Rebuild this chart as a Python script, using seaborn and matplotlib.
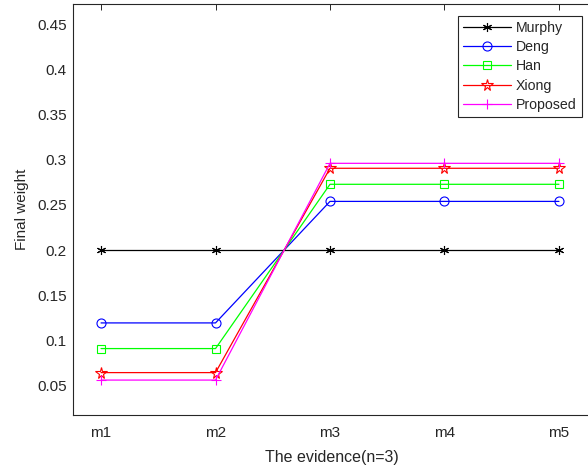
import matplotlib
matplotlib.use("Agg")
import matplotlib.pyplot as plt
import seaborn as sns
import pandas as pd
from matplotlib.ticker import FixedLocator, FuncFormatter

# Evidence labels and the final weight each method assigns to them
evidence = ["m1", "m2", "m3", "m4", "m5"]
murphy = [0.2, 0.2, 0.2, 0.2, 0.2]
deng = [0.1190, 0.1190, 0.2540, 0.2540, 0.2540]
han = [0.0905, 0.0905, 0.2730, 0.2730, 0.2730]
xiong = [0.0638, 0.0638, 0.2908, 0.2908, 0.2908]
proposed = [0.0555, 0.0555, 0.2963, 0.2963, 0.2963]

methods = ["Murphy", "Deng", "Han", "Xiong", "Proposed"]
series = [murphy, deng, han, xiong, proposed]
colors = ["#000000", "#0000ff", "#00ff00", "#ff0000", "#ff00ff"]
markers = [(6, 2, 0), "o", "s", "*", "+"]
msizes = [6.5, 6.5, 6.2, 8.5, 7.5]

sns.set_theme(style="white")
plt.rcParams["font.family"] = ["Liberation Sans", "DejaVu Sans"]
text_gray = "#262626"
plt.rcParams["text.color"] = text_gray
plt.rcParams["axes.labelcolor"] = text_gray
plt.rcParams["xtick.color"] = text_gray
plt.rcParams["ytick.color"] = text_gray

fig = plt.figure(figsize=(5.88, 4.71), dpi=100)
# axes box runs past the right edge of the figure
ax = fig.add_axes([73 / 588, 56 / 471, 518 / 588, 411 / 471])

for name, vals, c, m, ms in zip(methods, series, colors, markers, msizes):
    df = pd.DataFrame({"evidence": evidence, "weight": vals})
    sns.lineplot(data=df, x="evidence", y="weight", ax=ax, color=c,
                 marker=m, markersize=ms, markerfacecolor="none",
                 markeredgecolor=c, markeredgewidth=0.8, linewidth=0.9,
                 label=name)

ax.set_xlim(-0.245, 4.28)
ax.set_ylim(0.0167, 0.4733)
yt = [0.05, 0.1, 0.15, 0.2, 0.25, 0.3, 0.35, 0.4, 0.45]
ax.yaxis.set_major_locator(FixedLocator(yt))
ax.yaxis.set_major_formatter(FuncFormatter(lambda v, p: f"{v:g}"))

ax.tick_params(axis="both", direction="in", length=4.3, width=0.7,
               labelsize=11, top=True, right=False, pad=4.5)
ax.tick_params(axis="x", pad=8)
for s in ax.spines.values():
    s.set_color(text_gray)
    s.set_linewidth(0.8)

ax.set_xlabel("The evidence(n=3)", fontsize=11.5, labelpad=7)
ax.set_ylabel("Final weight", fontsize=11, labelpad=6)

leg = ax.legend(loc="upper right", bbox_to_anchor=(0.9818, 0.9715),
                borderaxespad=0, fancybox=False, framealpha=1,
                edgecolor=text_gray, fontsize=10.2, handlelength=3.4,
                labelspacing=0.38, borderpad=0.35, handletextpad=0.35)
leg.get_frame().set_linewidth(0.8)

fig.savefig("out.png", dpi=100)
